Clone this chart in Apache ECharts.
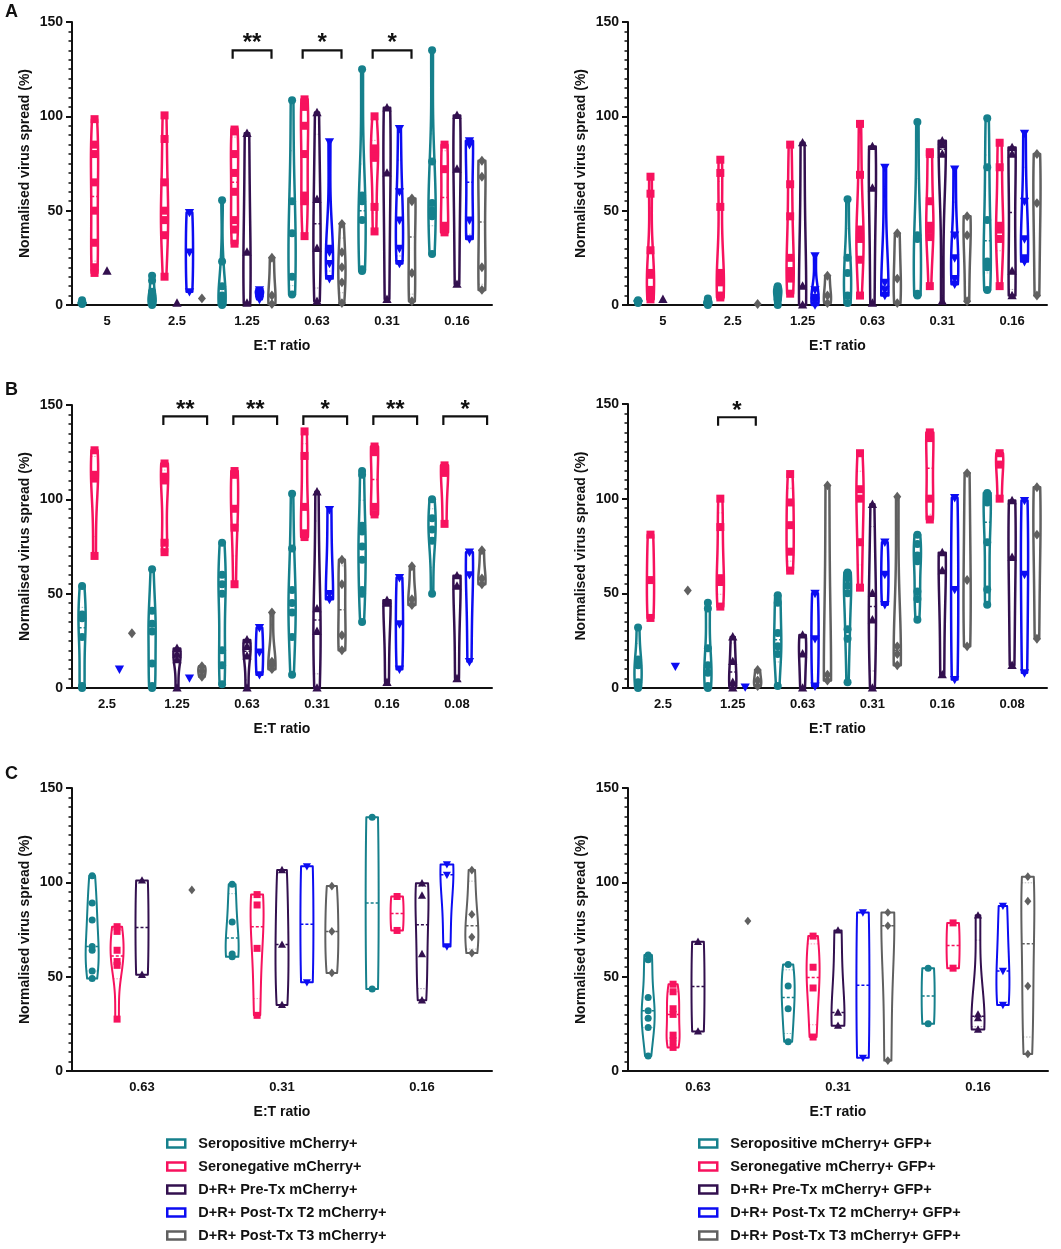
<!DOCTYPE html>
<html>
<head>
<meta charset="utf-8">
<script src="https://cdn.jsdelivr.net/npm/echarts@6.0.0/dist/echarts.min.js"></script>
<style>
  html, body { margin: 0; padding: 0; background: #fff; }
  #chart { width: 1061px; height: 1249px; }
</style>
</head>
<body>
<div id="chart"></div>
<script>
// categories (E:T ratio)
var catsA = ['5', '2.5', '1.25', '0.63', '0.31', '0.16'];
var catsB = ['2.5', '1.25', '0.63', '0.31', '0.16', '0.08'];
var catsC = ['0.63', '0.31', '0.16'];

var groupsMc = ['Seropositive mCherry+', 'Seronegative mCherry+', 'D+R+ Pre-Tx mCherry+',
  'D+R+ Post-Tx T2 mCherry+', 'D+R+ Post-Tx T3 mCherry+'];
var groupsGfp = ['Seropositive mCherry+ GFP+', 'Seronegative mCherry+ GFP+', 'D+R+ Pre-Tx mCherry+ GFP+',
  'D+R+ Post-Tx T2 mCherry+ GFP+', 'D+R+ Post-Tx T3 mCherry+ GFP+'];

// A, mCherry+ (one list of donors per E:T ratio)
var aMcSeropos = [[0.5, 1, 1.5, 2.5], [0, 1, 2, 5, 7, 13, 15.5], [0, 1, 2, 5, 10, 23, 55.5], [5.5, 15, 38, 55, 108.5], [18, 19, 45, 55, 58, 125], [27, 47, 50, 54, 76, 135]];
var aMcSeroneg = [[17, 20, 33, 50, 65, 80, 85, 98.5], [15, 37, 45, 50, 65, 88, 100.5], [32.5, 40, 45, 60, 70, 80, 92, 93], [36.5, 55, 58, 80, 95, 105, 109], [39, 52, 78, 80, 83, 100], [38.5, 42, 72, 85]];
var aMcPre = [[18], [1], [1, 28, 91], [2, 30, 56, 102], [3, 70, 104.5], [11, 72, 100.5]];
var aMcT2 = [[], [7, 28, 49], [3, 5, 7, 8], [14, 22, 28, 30, 86.5], [22, 30, 45, 60, 93.5], [35, 45, 85, 87]];
var aMcT3 = [[], [3.5], [0.5, 5, 25], [1, 12, 20, 28, 43], [2, 17, 55, 56.5], [8, 20, 68, 76.5]];

// A, mCherry+ GFP+
var aGfpSeropos = [[1, 2, 2.5], [0, 1, 2, 3.5], [0, 3, 6, 8, 10], [1, 5, 17, 25, 56], [5, 6, 35, 37, 97], [8, 20, 23, 45, 73, 99]];
var aGfpSeroneg = [[3, 5, 8, 16, 17, 29, 59, 68], [4, 5, 12, 15, 17, 52, 70, 77], [6, 14, 18, 25, 47, 64, 85], [5, 24, 35, 38, 40, 69, 96], [10, 36, 40, 42, 55, 80, 81], [10, 35, 40, 42, 73, 86]];
var aGfpPre = [[3], [], [0, 10, 86], [1, 62, 84], [2, 80, 85, 87], [5, 18, 80, 83.5]];
var aGfpT2 = [[], [], [0, 2, 4, 8, 26], [5, 8, 12, 73], [11, 14, 25, 37, 72], [23, 25, 35, 55, 91]];
var aGfpT3 = [[], [0.5], [1, 5, 15.5], [1, 14, 38], [2, 37, 47], [5, 54, 80]];

// B, mCherry+
var bMcSeropos = [[0, 1, 27, 37, 39, 54], [0, 1, 13, 30, 34, 41, 63], [2, 12, 20, 50, 55, 60, 77], [7, 27, 40, 45, 52, 74, 103], [35, 50, 52, 68, 75, 83, 86, 113, 115], [50, 78, 84, 90, 100]];
var bMcSeroneg = [[70, 111, 113, 126], [72, 77, 110, 112, 119], [55, 85, 95, 113, 115], [80, 82, 96, 123, 136], [92, 96, 125, 128], [87, 114, 118]];
var bMcPre = [[], [0, 15, 18, 21], [0, 17, 22, 25.5], [0, 30, 42, 104], [3, 45, 46.5], [5, 54, 59.5]];
var bMcT2 = [[10], [5.3], [7, 19, 32], [47, 50, 94.5], [10, 34, 58.5], [14, 60, 72]];
var bMcT3 = [[29], [6, 9, 11.5], [10, 12, 14, 40], [20, 28, 55, 68], [44, 47, 64.5], [55, 58, 73]];

// B, mCherry+ GFP+
var bGfpSeropos = [[0, 3, 12, 15, 32], [0, 1, 8, 12, 21, 42, 45], [1, 18, 22, 29, 45, 49], [3, 26, 31, 50, 54, 58, 61], [36, 47, 51, 67, 70, 76, 81], [44, 52, 77, 98, 100, 103]];
var bGfpSeroneg = [[37, 57, 81], [43, 56, 58, 85, 100], [62, 72, 86, 98, 113], [53, 77, 100, 105, 124], [89, 100, 132, 135], [100, 118, 124]];
var bGfpPre = [[], [0, 3, 14, 27], [0, 18, 28], [0, 36, 50, 97], [7, 62, 71.5], [12, 69, 99]];
var bGfpT2 = [[11.5], [0.5], [1, 26, 50], [44, 60, 77], [4.5, 52, 100.5], [8, 60, 99]];
var bGfpT3 = [[51.5], [1, 4, 9.5], [4, 7, 107], [12, 18, 22, 101], [22, 57, 113.5], [26, 81, 106]];

// C, mCherry+
var cMcSeropos = [[49, 53, 64, 66, 80, 89, 103.5], [60.5, 62, 79, 99], [43.5, 134.5]];
var cMcSeroneg = [[27.5, 56, 58, 64, 74, 76.5], [29.5, 65, 88, 93.5], [74.5, 92.5]];
var cMcPre = [[51, 101], [35, 67, 106.5], [37.5, 62, 93, 99.5]];
var cMcT2 = [[], [47, 108.5], [66, 104, 109.5]];
var cMcT3 = [[96], [52, 74, 98], [62.5, 71, 83, 106.5]];

// C, mCherry+ GFP+
var cGfpSeropos = [[8, 23, 28, 32, 39, 59, 61.5], [15.5, 33, 45, 56.5], [25, 54.5]];
var cGfpSeroneg = [[12.5, 16, 19, 30, 33, 42, 46], [18, 44, 55, 71.5], [54.5, 78.5]];
var cGfpPre = [[21, 68.5], [24, 31, 74.5], [22, 28, 30, 82.5]];
var cGfpT2 = [[], [7, 84], [35, 53, 87.5]];
var cGfpT3 = [[79.5], [5.5, 77, 84], [9, 45, 90, 103]];

// significance brackets: category index + label
var sigALeftCats = [2, 3, 4];
var sigALeftText = ['**', '*', '*'];
var sigBLeftCats = [1, 2, 3, 4, 5];
var sigBLeftText = ['**', '**', '*', '**', '*'];
var sigBRightCats = [1];
var sigBRightText = ['*'];

var COLORS = ['#16808c', '#f7125e', '#33104f', '#0c0cf2', '#606060'];
var FONT = "'Liberation Sans', Arial, sans-serif";
var GROUP_STEP = 0.178;

var panels = [
  { cats: catsA, data: [aMcSeropos, aMcSeroneg, aMcPre, aMcT2, aMcT3], names: groupsMc,
    grid: { left: 72, top: 22, width: 420, height: 283 }, halfW: 3.6, lineW: 2.5, sym: 8, jitter: 4,
    sigCats: sigALeftCats, sigText: sigALeftText, span: [-0.205, 0.35], top: 135, leg: 4.5, star: 141.5 },
  { cats: catsA, data: [aGfpSeropos, aGfpSeroneg, aGfpPre, aGfpT2, aGfpT3], names: groupsGfp,
    grid: { left: 628, top: 22, width: 419, height: 283 }, halfW: 3.6, lineW: 2.5, sym: 8, jitter: 4 },
  { cats: catsB, data: [bMcSeropos, bMcSeroneg, bMcPre, bMcT2, bMcT3], names: groupsMc,
    grid: { left: 72, top: 405, width: 420, height: 283 }, halfW: 3.6, lineW: 2.5, sym: 8, jitter: 4,
    sigCats: sigBLeftCats, sigText: sigBLeftText, span: [-0.195, 0.43], top: 144, leg: 4.6, star: 150 },
  { cats: catsB, data: [bGfpSeropos, bGfpSeroneg, bGfpPre, bGfpT2, bGfpT3], names: groupsGfp,
    grid: { left: 628, top: 404, width: 419, height: 284 }, halfW: 3.6, lineW: 2.5, sym: 8, jitter: 4,
    sigCats: sigBRightCats, sigText: sigBRightText, span: [-0.21, 0.33], top: 143, leg: 4.5, star: 149 },
  { cats: catsC, data: [cMcSeropos, cMcSeroneg, cMcPre, cMcT2, cMcT3], names: groupsMc,
    grid: { left: 72, top: 788, width: 420, height: 283 }, halfW: 6.5, lineW: 2, sym: 7, jitter: 6 },
  { cats: catsC, data: [cGfpSeropos, cGfpSeroneg, cGfpPre, cGfpT2, cGfpT3], names: groupsGfp,
    grid: { left: 628, top: 788, width: 420, height: 283 }, halfW: 6.5, lineW: 2, sym: 7, jitter: 6 }
];

function quantile(sorted, p) {
  // (n+1)p rule
  var n = sorted.length;
  var pos = (n + 1) * p;
  if (pos <= 1) return sorted[0];
  if (pos >= n) return sorted[n - 1];
  var lo = Math.floor(pos);
  return sorted[lo - 1] + (pos - lo) * (sorted[lo] - sorted[lo - 1]);
}

function bandwidth(sorted) {
  var n = sorted.length;
  var mean = sorted.reduce(function (a, b) { return a + b; }, 0) / n;
  var sd = Math.sqrt(sorted.reduce(function (a, b) { return a + (b - mean) * (b - mean); }, 0) / (n - 1));
  var iqr = (quantile(sorted, 0.75) - quantile(sorted, 0.25)) / 1.34;
  var s = iqr > 0 ? Math.min(sd, iqr) : sd;
  var h = 0.9 * s * Math.pow(n, -0.2);
  return h > 0 ? h : 1;
}

function density(sorted, h, y) {
  var d = 0;
  for (var i = 0; i < sorted.length; i++) {
    var z = (y - sorted[i]) / h;
    d += Math.exp(-0.5 * z * z);
  }
  return d;
}

function marker(kind, x, y, s, color) {
  var h = s / 2;
  if (kind === 0) return { type: 'circle', shape: { cx: x, cy: y, r: h }, style: { fill: color } };
  if (kind === 1) return { type: 'rect', shape: { x: x - h, y: y - h, width: s, height: s }, style: { fill: color } };
  if (kind === 2) return { type: 'polygon', shape: { points: [[x, y - s * 0.6], [x + s * 0.58, y + s * 0.45], [x - s * 0.58, y + s * 0.45]] }, style: { fill: color } };
  if (kind === 3) return { type: 'polygon', shape: { points: [[x, y + s * 0.6], [x + s * 0.58, y - s * 0.45], [x - s * 0.58, y - s * 0.45]] }, style: { fill: color } };
  return { type: 'polygon', shape: { points: [[x, y - s * 0.62], [x + s * 0.5, y], [x, y + s * 0.62], [x - s * 0.5, y]] }, style: { fill: color } };
}

function makeViolin(pnl, g) {
  var color = COLORS[g];
  return function (params, api) {
    var ci = api.value(0);
    var vals = pnl.data[g][ci].slice().sort(function (a, b) { return a - b; });
    if (!vals.length) return;
    var bw = api.size([1, 0])[0];
    var cx = api.coord([ci, 0])[0] + (g - 2) * bw * GROUP_STEP;
    var children = [];
    var lo = vals[0], hi = vals[vals.length - 1];
    if (vals.length > 1 && hi > lo) {
      var h = bandwidth(vals);
      var steps = 60, ys = [], dens = [];
      for (var k = 0; k <= steps; k++) {
        var v = lo + (hi - lo) * k / steps;
        ys.push(v);
        dens.push(density(vals, h, v));
      }
      var dmax = Math.max.apply(null, dens);
      var widthAt = function (v) { return pnl.halfW * density(vals, h, v) / dmax; };
      var left = [], right = [];
      ys.forEach(function (v, k) {
        var py = api.coord([ci, v])[1];
        var w = pnl.halfW * dens[k] / dmax;
        left.push([cx - w, py]);
        right.unshift([cx + w, py]);
      });
      children.push({ type: 'polygon', shape: { points: left.concat(right) },
        style: { fill: '#fff', stroke: color, lineWidth: pnl.lineW, lineJoin: 'round' } });
      [0.25, 0.75].forEach(function (p) {
        var q = quantile(vals, p), w = widthAt(q), py = api.coord([ci, q])[1];
        children.push({ type: 'line', shape: { x1: cx - w, y1: py, x2: cx + w, y2: py },
          style: { stroke: color, opacity: 0.45, lineWidth: 1, lineDash: [1.5, 1.5] } });
      });
      var med = quantile(vals, 0.5), wm = widthAt(med), pm = api.coord([ci, med])[1];
      children.push({ type: 'line', shape: { x1: cx - wm, y1: pm, x2: cx + wm, y2: pm },
        style: { stroke: color, lineWidth: 1.5, lineDash: [3, 2] } });
    }
    // points, spread sideways when they would overlap
    var placed = [], s = pnl.sym;
    vals.forEach(function (v) {
      var py = api.coord([ci, v])[1];
      var offs = [0, 0.7 * s, -0.7 * s, 1.4 * s, -1.4 * s];
      var off = 0;
      for (var i = 0; i < offs.length; i++) {
        if (Math.abs(offs[i]) > pnl.jitter) continue;
        var hit = placed.some(function (p) { return Math.abs(p[0] - (cx + offs[i])) < s * 0.8 && Math.abs(p[1] - py) < s * 0.8; });
        if (!hit) { off = offs[i]; break; }
      }
      placed.push([cx + off, py]);
      children.push(marker(g, cx + off, py, s, color));
    });
    return { type: 'group', children: children };
  };
}

function makeBracket(pnl) {
  return function (params, api) {
    var ci = api.value(0);
    var bw = api.size([1, 0])[0];
    var cx = api.coord([ci, 0])[0];
    var x1 = cx + pnl.span[0] * bw, x2 = cx + pnl.span[1] * bw;
    var yTop = api.coord([ci, pnl.top])[1];
    var yLeg = api.coord([ci, pnl.top - pnl.leg])[1];
    var yStar = api.coord([ci, pnl.star])[1];
    return { type: 'group', children: [
      { type: 'polyline', shape: { points: [[x1, yLeg], [x1, yTop], [x2, yTop], [x2, yLeg]] },
        style: { stroke: '#111', lineWidth: 2.2, fill: null } },
      { type: 'text', style: { text: pnl.sigText[params.dataIndex], x: (x1 + x2) / 2, y: yStar + 5,
        fontSize: 24, fontWeight: 'bold', fontFamily: FONT, fill: '#111', align: 'center', verticalAlign: 'middle' } }
    ] };
  };
}

var axisText = { color: '#111', fontWeight: 'bold', fontFamily: FONT };
var grids = [], xAxes = [], yAxes = [], series = [];

panels.forEach(function (pnl, pi) {
  grids.push(Object.assign({ containLabel: false, outerBoundsMode: 'none' }, pnl.grid));
  xAxes.push({
    type: 'category', gridIndex: pi, data: pnl.cats,
    name: 'E:T ratio', nameLocation: 'middle', nameGap: 34,
    nameTextStyle: Object.assign({ fontSize: 14 }, axisText),
    axisLine: { lineStyle: { color: '#111', width: 2 } },
    axisTick: { alignWithLabel: true, length: 6, lineStyle: { color: '#111', width: 2 } },
    axisLabel: Object.assign({ fontSize: 13, margin: 10, interval: 0 }, axisText),
    splitLine: { show: false }
  });
  yAxes.push({
    type: 'value', gridIndex: pi, min: 0, max: 150, interval: 50,
    name: 'Normalised virus spread (%)', nameLocation: 'middle', nameGap: 40,
    nameTextStyle: Object.assign({ fontSize: 14 }, axisText),
    axisLine: { show: true, lineStyle: { color: '#111', width: 2 } },
    axisTick: { show: true, length: 6, lineStyle: { color: '#111', width: 2 } },
    minorTick: { show: true, splitNumber: 10, length: 3.5, lineStyle: { color: '#111', width: 1.5 } },
    axisLabel: Object.assign({ fontSize: 14, margin: 9 }, axisText),
    splitLine: { show: false }
  });
  pnl.names.forEach(function (name, g) {
    series.push({
      type: 'custom', name: name, xAxisIndex: pi, yAxisIndex: pi,
      itemStyle: { color: COLORS[g] },
      renderItem: makeViolin(pnl, g),
      data: pnl.cats.map(function (c, i) { return [i, 0]; }),
      silent: true, animation: false
    });
  });
  if (pnl.sigCats) {
    series.push({
      type: 'custom', name: 'sig' + pi, xAxisIndex: pi, yAxisIndex: pi,
      renderItem: makeBracket(pnl), clip: false,
      data: pnl.sigCats.map(function (c) { return [c, pnl.top]; }),
      silent: true, animation: false, z: 5
    });
  }
});

function legendFor(names, left) {
  return {
    orient: 'vertical', left: left, top: 1136, height: 140, padding: 0,
    itemWidth: 18, itemHeight: 8, itemGap: 8,
    selectedMode: false,
    textStyle: { fontSize: 14.5, fontWeight: 'bold', color: '#111', fontFamily: FONT, padding: [0, 0, 0, 8] },
    data: names.map(function (n, g) {
      return { name: n, icon: 'rect', itemStyle: { color: '#fff', borderColor: COLORS[g], borderWidth: 2.5 } };
    })
  };
}

var chart = echarts.init(document.getElementById('chart'));
chart.setOption({
  backgroundColor: '#fff',
  animation: false,
  textStyle: { fontFamily: FONT },
  grid: grids, xAxis: xAxes, yAxis: yAxes, series: series,
  legend: [legendFor(groupsMc, 166), legendFor(groupsGfp, 698)],
  graphic: [
    { type: 'text', left: 5, top: 3, style: { text: 'A', fontSize: 18, fontWeight: 'bold', fontFamily: FONT, fill: '#111' } },
    { type: 'text', left: 5, top: 381, style: { text: 'B', fontSize: 18, fontWeight: 'bold', fontFamily: FONT, fill: '#111' } },
    { type: 'text', left: 5, top: 765, style: { text: 'C', fontSize: 18, fontWeight: 'bold', fontFamily: FONT, fill: '#111' } }
  ]
});
window.addEventListener('resize', function () { chart.resize(); });
</script>
</body>
</html>
